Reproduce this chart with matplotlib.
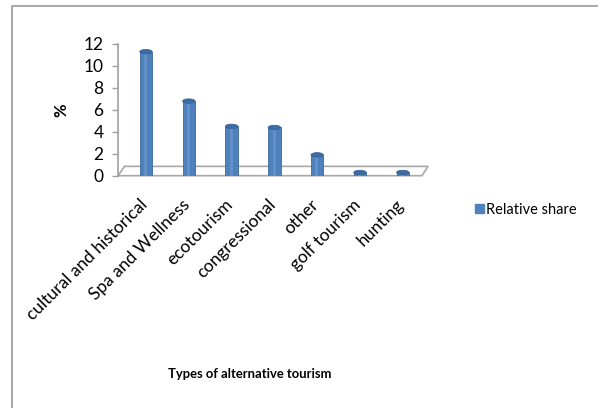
import matplotlib
matplotlib.use("Agg")
import matplotlib.pyplot as plt
import matplotlib.transforms as mtransforms
from matplotlib.patches import Polygon, Ellipse, Rectangle
from matplotlib.lines import Line2D

categories = ["cultural and historical", "Spa and Wellness", "ecotourism",
              "congressional", "other", "golf tourism", "hunting"]
values = [11.3, 6.8, 4.5, 4.4, 1.9, 0.3, 0.3]
yticks = [0, 2, 4, 6, 8, 10, 12]
series_name = "Relative share"

plt.rcParams['font.family'] = ['Lato', 'DejaVu Sans']

W, H = 598, 408
fig = plt.figure(figsize=(W / 100, H / 100), dpi=100)

# chart frame (top and left edges)
fig.add_artist(Line2D([12 / W, 12 / W, 1.0], [0.0, 1 - 6 / H, 1 - 6 / H],
                      transform=fig.transFigure, color="#9a9a9a", linewidth=1.2))

ax = fig.add_axes([118 / W, 1 - 175.7 / H, 310 / W, (175.7 - 44) / H])
ax.set_xlim(-0.654, 6.59)
ax.set_ylim(0, 12)

bar_color = "#4F81BD"
width = 0.29
x = list(range(len(categories)))

# floor of the plot area
depth = 0.85
ax.add_patch(Polygon([(-0.654, 0), (6.45, 0), (6.59, depth), (-0.5, depth)],
                     closed=True, facecolor="white", edgecolor="#a8a8a8",
                     linewidth=1.2, zorder=1, clip_on=False))

ax.bar(x, values, width=width, color=bar_color, edgecolor="#3a6aa0",
       linewidth=0.6, zorder=3, label=series_name)
# cylinder caps, bases and shading
for xi, v in zip(x, values):
    ax.add_patch(Rectangle((xi - width * 0.15, 0), width * 0.25, v,
                           facecolor="#6f9bd1", edgecolor="none", zorder=3.5,
                           alpha=0.6))
    ax.add_patch(Ellipse((xi, v), width, 0.4, facecolor="#3d6ca5",
                         edgecolor="#365f94", linewidth=0.5, zorder=4))
    ax.add_patch(Ellipse((xi, 0), width, 0.4, facecolor="#6a98d0",
                         edgecolor="none", zorder=2.9))

for s in ["top", "right", "bottom"]:
    ax.spines[s].set_visible(False)
ax.spines["left"].set_color("#a0a0a0")
ax.spines["left"].set_linewidth(1.2)

ax.set_yticks(yticks)
ax.set_yticklabels([str(t) for t in yticks], fontsize=12.5)
ax.tick_params(axis="y", length=4.5, width=1.0, color="#a0a0a0", pad=6)
ax.set_xticks(x)
ax.set_xticklabels(categories, rotation=45, ha="right", rotation_mode="anchor",
                   fontsize=12.5)
ax.tick_params(axis="x", length=0, pad=15)
shift = mtransforms.ScaledTranslation(-0.07, 0, fig.dpi_scale_trans)
for lbl in ax.get_xticklabels():
    lbl.set_transform(lbl.get_transform() + shift)

ax.set_ylabel("%", fontsize=12, fontweight="bold", labelpad=10)
fig.text(250 / W, 1 - 374 / H, "Types of alternative tourism", ha="center",
         va="center", fontsize=9.4, fontweight="bold")

fig.legend(handles=[Rectangle((0, 0), 1, 1, color=bar_color)],
           labels=[series_name], loc="center left",
           bbox_to_anchor=(469 / W, 1 - 210 / H), frameon=False, fontsize=10.5,
           handlelength=0.6, handleheight=0.6, handletextpad=0.2,
           borderaxespad=0.0)

fig.savefig("out.png", dpi=100)
